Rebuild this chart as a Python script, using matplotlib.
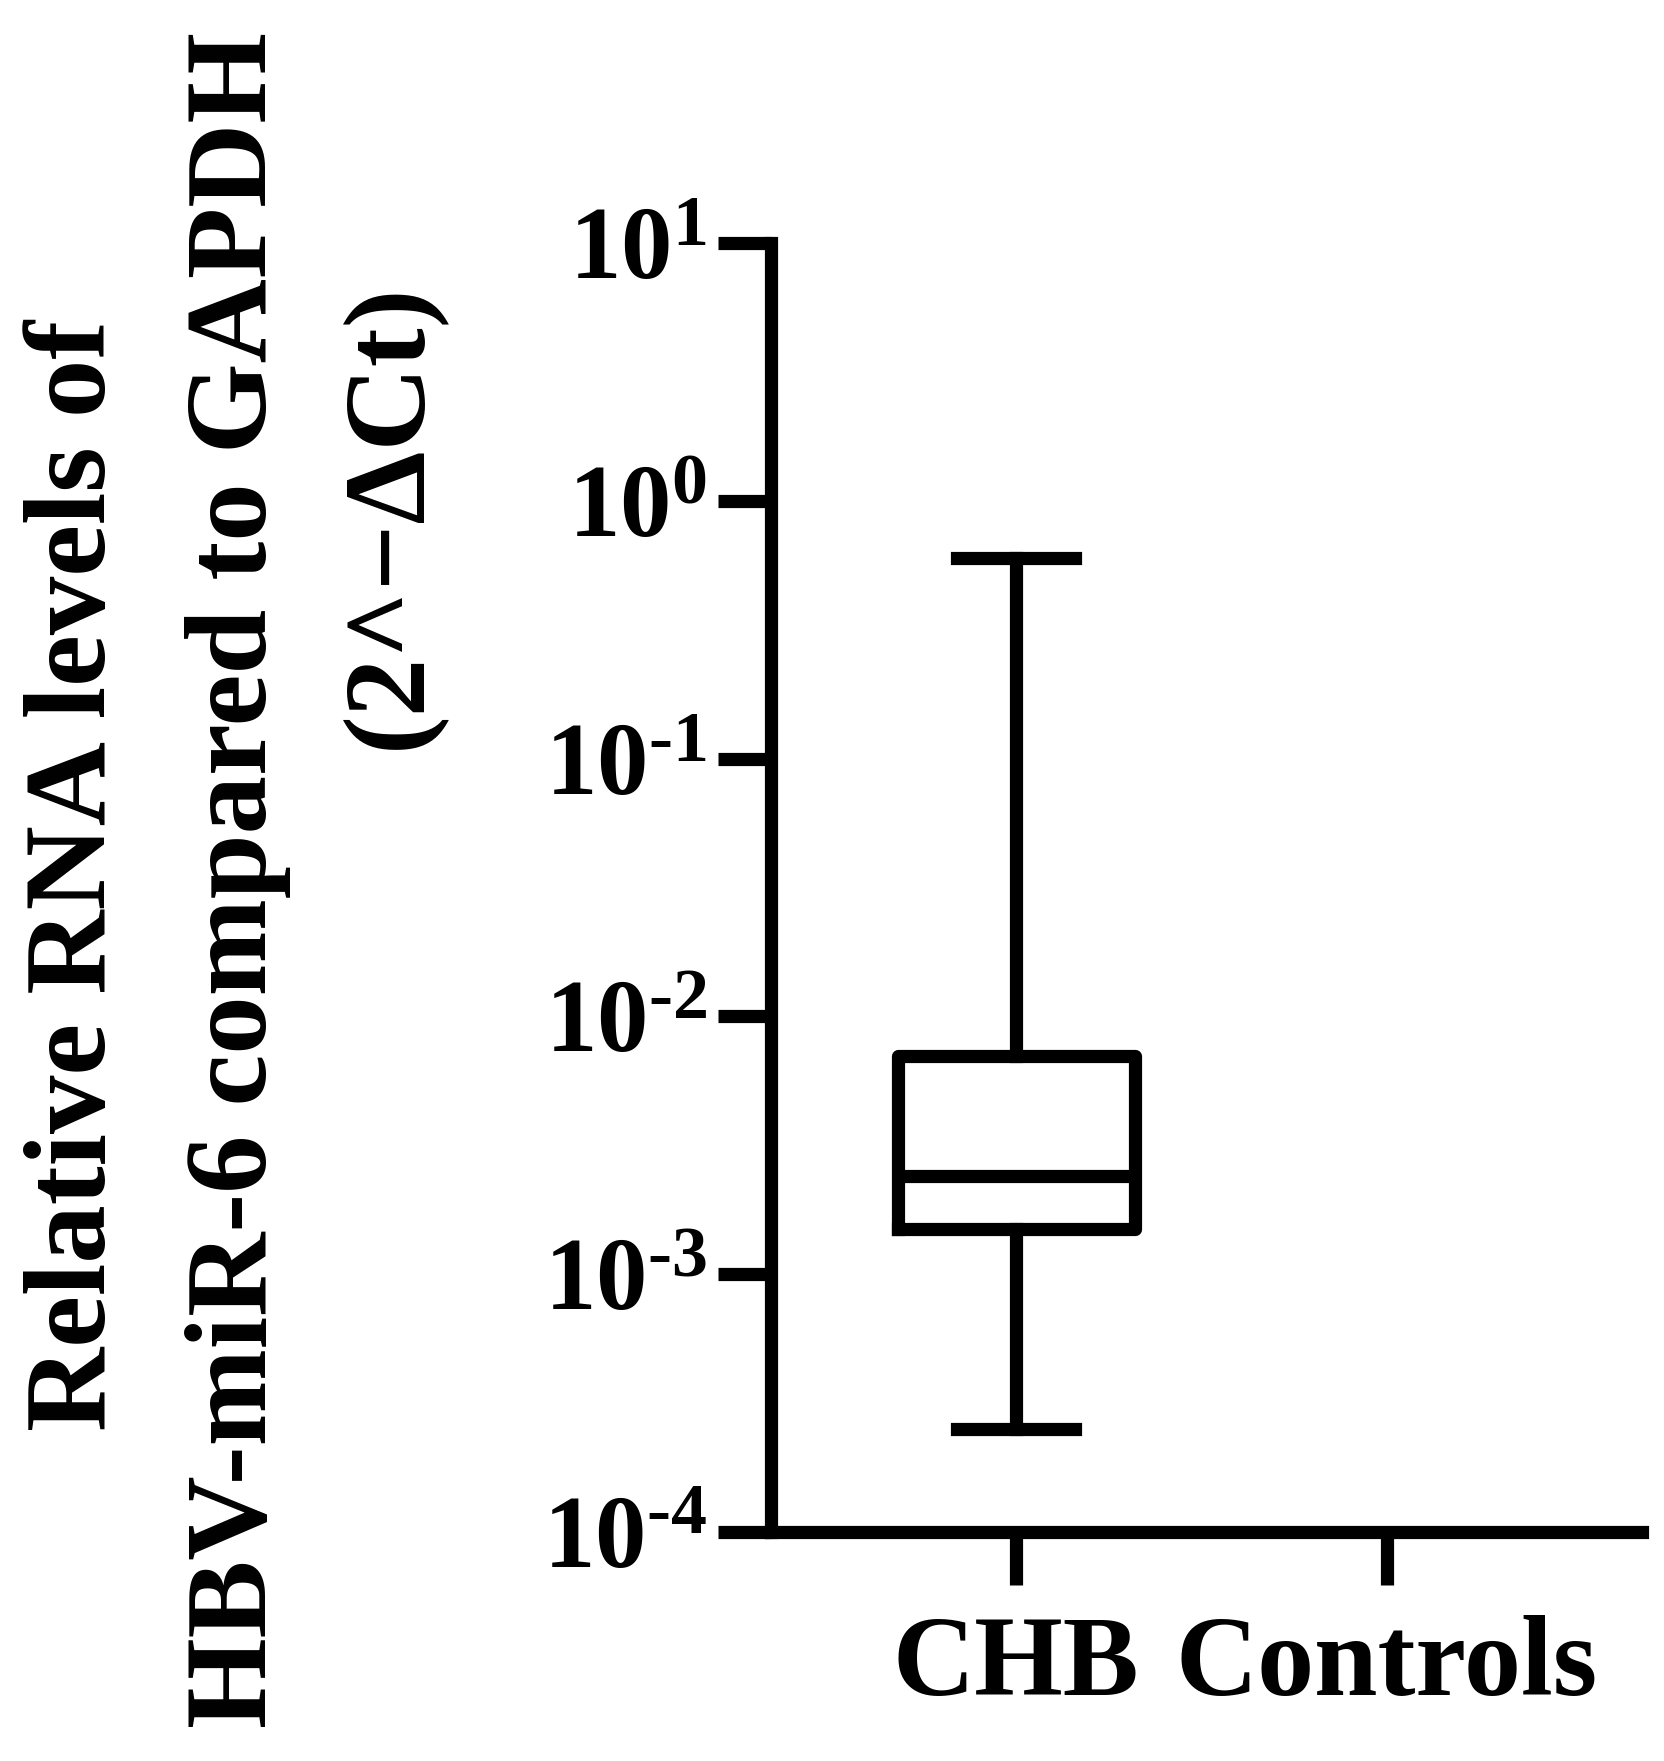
import matplotlib
matplotlib.use("Agg")
import matplotlib.pyplot as plt
from matplotlib.ticker import FixedLocator, FixedFormatter, NullLocator

plt.rcParams["font.family"] = ["Liberation Serif", "DejaVu Serif"]
plt.rcParams["font.weight"] = "bold"
plt.rcParams["mathtext.fontset"] = "custom"
plt.rcParams["mathtext.rm"] = "Liberation Serif:bold"
plt.rcParams["mathtext.bf"] = "Liberation Serif:bold"
plt.rcParams["mathtext.default"] = "bf"

categories = ["CHB", "Controls"]
# box stats for CHB
whisk_lo, q1, med, q3, whisk_hi = 2.5e-4, 1.5e-3, 2.4e-3, 7.0e-3, 0.6
exponents = [-4, -3, -2, -1, 0, 1]

fig = plt.figure(figsize=(16.65, 17.61), dpi=100)
ax = fig.add_axes([0.463, 0.130, 0.523, 0.732])

stats = [{"whislo": whisk_lo, "q1": q1, "med": med, "q3": q3, "whishi": whisk_hi, "fliers": []}]
lw = 9.5
ax.bxp(stats, positions=[0], widths=0.64, showfliers=False,
       boxprops=dict(linewidth=lw, color="black"),
       medianprops=dict(linewidth=lw, color="black"),
       whiskerprops=dict(linewidth=lw, color="black"),
       capprops=dict(linewidth=lw, color="black"),
       capwidths=0.32)

ax.set_yscale("log")
ax.set_ylim(1e-4, 10)
ax.set_xlim(-0.662, 1.688)
ax.yaxis.set_major_locator(FixedLocator([10.0 ** e for e in exponents]))
ax.yaxis.set_major_formatter(FixedFormatter(
    [f"10$^{{{str(e).replace('-', chr(0x2010))}}}$" for e in exponents]))
ax.yaxis.set_minor_locator(NullLocator())
ax.set_xticks([0, 1])
ax.set_xticklabels(categories)

for s in ["top", "right"]:
    ax.spines[s].set_visible(False)
for s in ["left", "bottom"]:
    ax.spines[s].set_linewidth(lw)
ax.tick_params(axis="both", width=lw, length=38, direction="out", pad=8)
ax.tick_params(axis="y", labelsize=74)
ax.tick_params(axis="x", labelsize=82, pad=22)

fig.text(0.046, 0.503, "Relative RNA levels of", rotation=90, ha="center", va="center",
         fontsize=84, fontweight="bold")
fig.text(0.143, 0.50, "HBV-miR-6 compared to GAPDH", rotation=90, ha="center", va="center",
         fontsize=84, fontweight="bold")
fig.text(0.235, 0.707, "(2^\u2212\u0394Ct)", rotation=90, ha="center", va="center",
         fontsize=84, fontweight="bold")

fig.savefig("out.png", dpi=100, facecolor="white")
